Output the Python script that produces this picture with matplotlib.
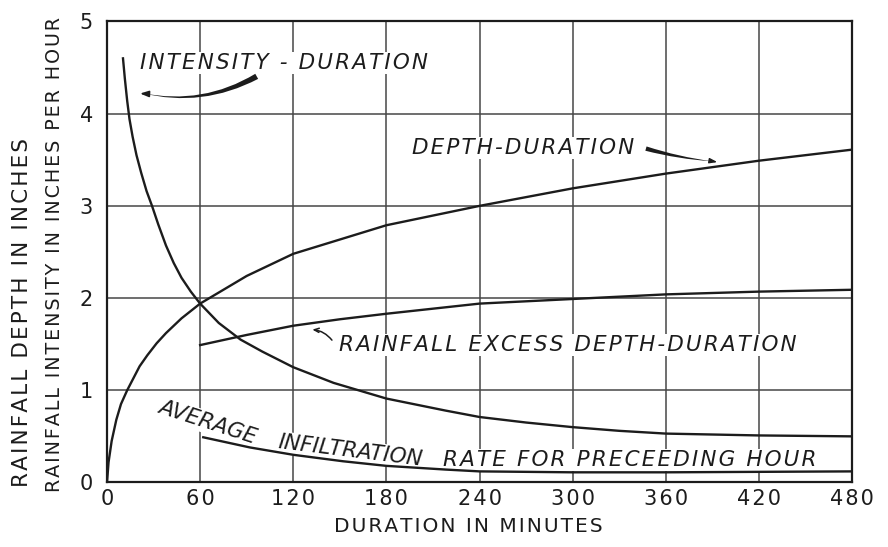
import matplotlib
matplotlib.use("Agg")
import matplotlib.pyplot as plt

# durations in minutes and curve values
depth_min = [0, 1, 3, 6, 9, 13, 17, 21, 26, 32, 38, 48, 60, 90, 120, 180, 240, 300, 360, 420, 480]
depth_in = [0, 0.22, 0.45, 0.68, 0.85, 1.0, 1.13, 1.26, 1.38, 1.51, 1.62, 1.78, 1.94, 2.24, 2.48, 2.79, 3.0, 3.19, 3.35, 3.49, 3.61]

intensity_min = [10.3, 11.5, 13, 14.5, 16.5, 19, 22, 25.5, 29, 33, 38, 43, 48, 54, 60, 72, 86, 100, 120, 146, 180, 218, 240, 270, 300, 330, 360, 420, 480]
intensity_iph = [4.6, 4.38, 4.14, 3.94, 3.75, 3.55, 3.36, 3.16, 3.0, 2.80, 2.57, 2.38, 2.22, 2.07, 1.94, 1.73, 1.55, 1.42, 1.25, 1.08, 0.91, 0.78, 0.71, 0.65, 0.60, 0.56, 0.53, 0.51, 0.50]

excess_min = [60, 90, 120, 150, 180, 240, 300, 360, 420, 480]
excess_in = [1.49, 1.60, 1.70, 1.77, 1.83, 1.94, 1.99, 2.04, 2.07, 2.09]

infil_min = [62, 92, 120, 152, 180, 218, 240, 300, 360, 420, 480]
infil_iph = [0.49, 0.38, 0.30, 0.23, 0.18, 0.14, 0.12, 0.11, 0.11, 0.115, 0.12]

x_ticks = [0, 60, 120, 180, 240, 300, 360, 420, 480]
y_ticks = [0, 1, 2, 3, 4, 5]

ink = "#1c1c1c"
grid_ink = "#474747"


def spaced(s):
    # open up the lettering a little, like stencil lettering
    return "\u200a".join(s)


fig = plt.figure(figsize=(8.88, 5.47), dpi=100)
ax = fig.add_axes([0.1205, 0.118, 0.839, 0.8427])

ax.set_xlim(0, 480)
ax.set_ylim(0, 5)
ax.set_xticks(x_ticks)
ax.set_yticks(y_ticks)
ax.set_xticklabels([spaced(str(v)) for v in x_ticks])
ax.set_yticklabels([str(v) for v in y_ticks])
ax.tick_params(length=0, labelsize=15, colors=ink)
ax.tick_params(axis="y", pad=10)
ax.tick_params(axis="x", pad=5)
ax.grid(True, color=grid_ink, linewidth=1.1)
ax.set_axisbelow(True)
for sp in ax.spines.values():
    sp.set_linewidth(1.6)
    sp.set_color(ink)

lw = 1.7
ax.plot(depth_min, depth_in, color=ink, lw=lw, zorder=3)
ax.plot(intensity_min, intensity_iph, color=ink, lw=lw, zorder=3)
ax.plot(excess_min, excess_in, color=ink, lw=lw, zorder=3)
ax.plot(infil_min, infil_iph, color=ink, lw=lw, zorder=3)

lab = dict(style="italic", fontsize=15.5, color=ink, zorder=2.5,
           bbox=dict(facecolor="white", edgecolor="none", pad=1))

ax.text(21.5, 4.55, spaced("INTENSITY - DURATION"), ha="left", va="center", **lab)
ax.text(196.5, 3.63, spaced("DEPTH-DURATION"), ha="left", va="center", **lab)
ax.text(149.5, 1.49, spaced("RAINFALL EXCESS DEPTH-DURATION"), ha="left", va="center", **lab)
ax.text(65, 0.65, "AVERAGE", ha="center", va="center", rotation=-18, **lab)
ax.text(156.5, 0.34, "INFILTRATION", ha="center", va="center", rotation=-7, **lab)
ax.text(216.5, 0.245, spaced("RATE FOR PRECEEDING HOUR"), ha="left", va="center", **lab)

# pointer strokes from the labels to their curves
ax.annotate("", xy=(21, 4.23), xytext=(98, 4.42),
            arrowprops=dict(arrowstyle="wedge,tail_width=0.42,shrink_factor=0.45",
                            connectionstyle="arc3,rad=-0.2", color=ink, lw=0), zorder=4)
ax.annotate("", xy=(19.5, 4.22), xytext=(26, 4.215),
            arrowprops=dict(arrowstyle="-|>,head_length=0.5,head_width=0.18",
                            color=ink, lw=1.2), zorder=4)
ax.annotate("", xy=(392, 3.48), xytext=(345.5, 3.63),
            arrowprops=dict(arrowstyle="wedge,tail_width=0.32,shrink_factor=0.5",
                            connectionstyle="arc3,rad=0.05", color=ink, lw=0), zorder=4)
ax.annotate("", xy=(395, 3.47), xytext=(388, 3.49),
            arrowprops=dict(arrowstyle="-|>,head_length=0.45,head_width=0.15",
                            color=ink, lw=1.0), zorder=4)
ax.annotate("", xy=(130.5, 1.66), xytext=(146, 1.52),
            arrowprops=dict(arrowstyle="->,head_length=0.35,head_width=0.15",
                            connectionstyle="arc3,rad=0.25", color=ink, lw=1.1), zorder=4)

fig.text(0.527, 0.0366, spaced("DURATION IN MINUTES"), ha="center", va="center",
         fontsize=14.5, color=ink)
fig.text(0.0248, 0.4296, spaced("RAINFALL DEPTH IN INCHES"), ha="center", va="center",
         rotation=90, fontsize=15.5, color=ink)
fig.text(0.0619, 0.534, spaced("RAINFALL INTENSITY IN INCHES PER HOUR"), ha="center",
         va="center", rotation=90, fontsize=13.8, color=ink)

fig.savefig("out.png", dpi=100, facecolor="white")
